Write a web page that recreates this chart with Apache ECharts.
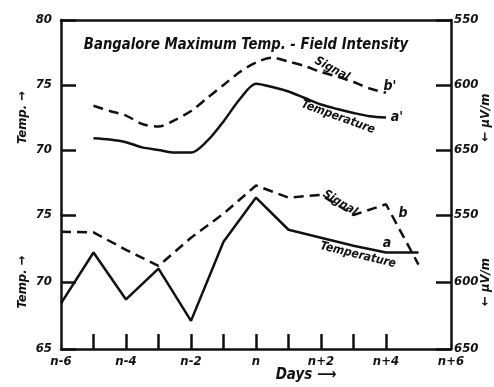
<!DOCTYPE html>
<html>
<head>
<meta charset="utf-8">
<script src="https://cdn.jsdelivr.net/npm/echarts@6/dist/echarts.min.js"></script>
<style>html,body{margin:0;padding:0;background:#fff}#c{width:494px;height:387px}</style>
</head>
<body>
<div id="c"></div>
<script>
// ---- data ----
// bottom panel: daily readings (days relative to day n)
var days = ['n-6','n-5','n-4','n-3','n-2','n-1','n','n+1','n+2','n+3','n+4','n+5','n+6'];
var botTemp    = [68.4, 72.2, 68.7, 71.0, 67.1, 73.0, 76.3, 73.9, 73.3, 72.7, 72.2, 72.2, null];
var botSignal  = [562.5, 563, 576, 588, 567, 549, 528, 537, 535, 550, 542, 587, null];
// top panel: smoothed curves read at half-day steps (day offset from n)
var topDays    = [-5, -4.5, -4, -3.5, -3, -2.5, -2, -1.5, -1, -0.5, 0, 0.5, 1, 1.5, 2, 2.5, 3, 3.5, 4];
var topTemp    = [70.9, 70.8, 70.6, 70.2, 70.0, 69.8, 69.8, 70.7, 72.2, 73.9, 75.1, 74.85, 74.5, 74.0, 73.5, 73.15, 72.85, 72.6, 72.5];
var topSignal  = [616, 620, 623.5, 630, 632, 627, 620, 610, 600, 590, 582.7, 579, 582, 585.4, 590, 593.5, 597.7, 602.7, 606];
var tempTicksTop = [70, 75, 80];
var tempTicksBot = [65, 70, 75];
var sigTicks = [550, 600, 650];

function pairs(xs, ys) { return xs.map(function (x, i) { return [x, ys[i]]; }); }

var FONT = '"Liberation Sans Narrow", "DejaVu Sans Condensed", sans-serif';
var INK = '#111';
var txt = {fontFamily: FONT, fontStyle: 'italic', fontWeight: 'bold', color: INK, fontSize: 13};
var axLine = {show: true, onZero: false, lineStyle: {color: INK, width: 2.5}};
var tick = {show: true, inside: true, length: 15, lineStyle: {color: INK, width: 2.5}};

function yAx(gi, pos, min, max, inverse, shown, name, gap) {
  return {
    type: 'value', gridIndex: gi, position: pos, min: min, max: max, interval: max > 100 ? 50 : 5,
    inverse: inverse, splitLine: {show: false}, axisLine: axLine, axisTick: tick,
    axisLabel: Object.assign({}, txt, {margin: pos === 'left' ? 9 : 3,
      formatter: function (v) { return shown.indexOf(v) >= 0 ? String(v) : ''; }}),
    name: name, nameLocation: 'middle', nameRotate: 90, nameGap: gap, nameMoveOverlap: false,
    nameTextStyle: Object.assign({}, txt, {fontSize: 13})
  };
}

var chart = echarts.init(document.getElementById('c'));
chart.setOption({
  backgroundColor: '#fff',
  animation: false,
  grid: [
    {left: 61, right: 43, top: 20, height: 195, outerBoundsMode: 'none', containLabel: false},
    {left: 61, right: 43, top: 215, height: 134, outerBoundsMode: 'none', containLabel: false}
  ],
  xAxis: [
    {type: 'value', gridIndex: 0, min: -6, max: 6, position: 'top', splitLine: {show: false},
     axisLine: axLine, axisTick: {show: false}, axisLabel: {show: false}},
    {type: 'category', gridIndex: 1, data: days, boundaryGap: false, position: 'bottom',
     axisLine: axLine,
     axisTick: {show: true, inside: true, length: 15, lineStyle: {color: INK, width: 2.5},
       interval: function (i) { return i >= 1 && i <= 10; }},
     axisLabel: Object.assign({}, txt, {margin: 6, interval: function (i) { return i % 2 === 0; }})}
  ],
  yAxis: [
    yAx(0, 'left', 65, 80, false, tempTicksTop, 'Temp. \u2192', 32),
    yAx(0, 'right', 550, 700, true, sigTicks, '\u2190 \u03bcV/m', 28),
    yAx(1, 'left', 65, 75, false, tempTicksBot, 'Temp. \u2192', 32),
    yAx(1, 'right', 550, 650, true, sigTicks, '\u2190 \u03bcV/m', 28)
  ],
  series: [
    {type: 'line', xAxisIndex: 0, yAxisIndex: 0, data: pairs(topDays, topTemp), smooth: 0.3, symbol: 'none', clip: false,
     lineStyle: {color: INK, width: 2.5}},
    {type: 'line', xAxisIndex: 0, yAxisIndex: 1, data: pairs(topDays, topSignal), smooth: 0.3, symbol: 'none', clip: false,
     lineStyle: {color: INK, width: 2.5, type: [10, 6]}},
    {type: 'line', xAxisIndex: 1, yAxisIndex: 2, data: botTemp, symbol: 'none', clip: false,
     lineStyle: {color: INK, width: 2.5}},
    {type: 'line', xAxisIndex: 1, yAxisIndex: 3, data: botSignal, symbol: 'none', clip: false,
     lineStyle: {color: INK, width: 2.5, type: [10, 6]}}
  ],
  graphic: [
    {type: 'text', x: 246, y: 45, scaleX: 0.92, style: {text: 'Bangalore Maximum Temp. - Field Intensity', align: 'center', verticalAlign: 'middle', font: 'italic bold 16px ' + FONT, fill: INK}},
    {type: 'text', x: 332, y: 69, rotation: -0.5, style: {text: 'Signal', align: 'center', verticalAlign: 'middle', font: 'italic bold 12px ' + FONT, fill: INK}},
    {type: 'text', x: 390, y: 86, style: {text: "b'", align: 'center', verticalAlign: 'middle', font: 'italic bold 14px ' + FONT, fill: INK}},
    {type: 'text', x: 338, y: 117, rotation: -0.35, style: {text: 'Temperature', align: 'center', verticalAlign: 'middle', font: 'italic bold 12px ' + FONT, fill: INK}},
    {type: 'text', x: 397, y: 117, style: {text: "a'", align: 'center', verticalAlign: 'middle', font: 'italic bold 14px ' + FONT, fill: INK}},
    {type: 'text', x: 340, y: 203, rotation: -0.55, style: {text: 'Signal', align: 'center', verticalAlign: 'middle', font: 'italic bold 12px ' + FONT, fill: INK}},
    {type: 'text', x: 403, y: 213, style: {text: 'b', align: 'center', verticalAlign: 'middle', font: 'italic bold 14px ' + FONT, fill: INK}},
    {type: 'text', x: 358, y: 255, rotation: -0.24, style: {text: 'Temperature', align: 'center', verticalAlign: 'middle', font: 'italic bold 12px ' + FONT, fill: INK}},
    {type: 'text', x: 387, y: 243, style: {text: 'a', align: 'center', verticalAlign: 'middle', font: 'italic bold 14px ' + FONT, fill: INK}},
    {type: 'text', x: 306, y: 375, style: {text: 'Days \u27f6', align: 'center', verticalAlign: 'middle', font: 'italic bold 15px ' + FONT, fill: INK}}
  ]
});
</script>
</body>
</html>
